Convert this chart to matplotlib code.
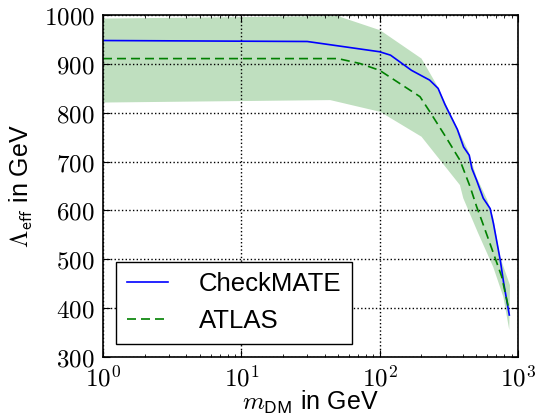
import numpy as np
import matplotlib
matplotlib.use("Agg")
import matplotlib.pyplot as plt
from matplotlib.ticker import FuncFormatter, LogLocator, FixedLocator

plt.rcParams["mathtext.fontset"] = "cm"
plt.rcParams["font.family"] = ["Liberation Sans", "DejaVu Sans"]

# === CheckMATE (solid blue) ===
cm_mass = [1, 30, 100, 120, 170, 230, 265, 297, 365, 405, 445, 465, 503,
           562, 600, 630, 665, 745, 790, 867]
cm_lambda = [948, 946, 925, 918, 887, 867, 850, 817, 766, 730, 713, 686, 662,
             625, 613, 604, 574, 499, 451, 386]

# === ATLAS (dashed green) ===
atlas_mass = [1, 50, 72, 100, 196, 231, 305, 381, 451, 503, 547, 640, 763, 852]
atlas_lambda = [911, 911, 901, 887, 833, 802, 748, 703, 649, 608, 580, 526,
                465, 403]

# === ATLAS uncertainty band ===
band_up_mass = [1, 50, 101, 201, 259, 381, 438, 503, 600, 664, 743, 877]
band_up = [993, 998, 969, 911, 857, 758, 722, 668, 622, 585, 505, 447]
band_lo_mass = [1, 44, 101, 201, 381, 403, 447, 517, 664, 785, 867]
band_lo = [821, 826, 802, 751, 652, 625, 595, 553, 484, 423, 355]

fig = plt.figure(figsize=(5.35, 4.2), dpi=100)
ax = fig.add_axes([0.1925, 0.15, 0.7755, 0.814])

poly_x = np.concatenate([band_up_mass, band_lo_mass[::-1]])
poly_y = np.concatenate([band_up, band_lo[::-1]])
ax.fill(poly_x, poly_y, color="g", alpha=0.25, lw=0)

ax.plot(cm_mass, cm_lambda, color="b", lw=1.2, label="CheckMATE")
ax.plot(atlas_mass, atlas_lambda, color="g", lw=1.2, ls=(0, (5.4, 3)),
        label="ATLAS")

ax.set_xscale("log")
ax.set_xlim(1, 1000)
ax.set_ylim(300, 1000)
ax.set_yticks(range(300, 1001, 100))
ax.yaxis.set_major_formatter(FuncFormatter(lambda v, p: r"$\mathrm{%d}$" % v))
ax.xaxis.set_major_locator(FixedLocator([1, 10, 100, 1000]))
ax.xaxis.set_major_formatter(
    FuncFormatter(lambda v, p: r"$\mathrm{10^{%d}}$" % round(np.log10(v))))
ax.xaxis.set_minor_locator(LogLocator(base=10, subs=np.arange(2, 10)))

ax.tick_params(which="both", direction="in", top=True, right=True,
               labelsize=18, pad=6)
ax.tick_params(which="major", length=5, width=0.8)
ax.tick_params(which="minor", length=2.5, width=0.6)
for s in ax.spines.values():
    s.set_linewidth(1.2)

ax.grid(True, which="major", color="k", ls=":", lw=1.0)

ax.set_xlabel(r"$m_{\mathsf{DM}}$ in GeV", fontsize=18, labelpad=-2)
ax.set_ylabel(r"$\Lambda_{\mathsf{eff}}$ in GeV", fontsize=18, labelpad=6)

leg = ax.legend(loc="lower left", bbox_to_anchor=(0.031, 0.038), fontsize=18.5,
                fancybox=False, framealpha=1, edgecolor="k",
                handlelength=1.6, handletextpad=1.2, borderpad=0.42,
                labelspacing=0.5, borderaxespad=0)
leg.get_frame().set_linewidth(1.0)

fig.savefig("out.png", dpi=100)
